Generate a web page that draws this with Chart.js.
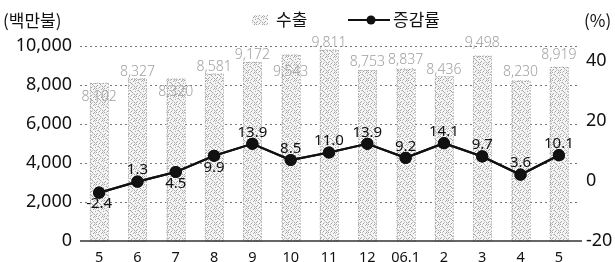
<!DOCTYPE html>
<html>
<head>
<meta charset="utf-8">
<script src="https://cdn.jsdelivr.net/npm/chart.js@4"></script>
<style>
  html, body { margin: 0; padding: 0; background: #fff; }
  #wrap { width: 615px; height: 262px; }
</style>
</head>
<body>
<div id="wrap"><canvas id="myChart" width="615" height="262"></canvas></div>
<script>
// données
const mois = ['5', '6', '7', '8', '9', '10', '11', '12', '06.1', '2', '3', '4', '5'];
const exportations = [8102, 8327, 8320, 8581, 9172, 9543, 9811, 8753, 8837, 8436, 9498, 8230, 8919];
const tauxCroissance = [-2.4, 1.3, 4.5, 9.9, 13.9, 8.5, 11.0, 13.9, 9.2, 14.1, 9.7, 3.6, 10.1];
const ticksGauche = [0, 2000, 4000, 6000, 8000, 10000];
const ticksDroite = [-20, 0, 20, 40];

// placement des étiquettes (style)
const positionEtiquette = ['below', 'above', 'below', 'below', 'above', 'above', 'above', 'above', 'above', 'above', 'above', 'above', 'above'];
const decalageBarre = [14, -7, 13, -7, -7, 17, -7, -8, -9, -6, -13, -8, -12];

const policeNum = '"Noto Sans", sans-serif';
const policeKr = '"Noto Sans CJK KR", sans-serif';

// motif pointillé pour les barres (points fixes, tuile 8x8)
function creerMotif() {
  const c = document.createElement('canvas');
  c.width = 8; c.height = 8;
  const g = c.getContext('2d');
  g.fillStyle = '#f5f5f5';
  g.fillRect(0, 0, 8, 8);
  g.fillStyle = '#a4a4a4';
  [[0, 0], [5, 1], [2, 2], [7, 3], [4, 4], [1, 5], [6, 6], [3, 7], [6, 0], [3, 3], [0, 6]]
    .forEach(([x, y]) => g.fillRect(x, y, 1, 1));
  g.fillStyle = '#c8c8c8';
  [[2, 0], [7, 1], [4, 6], [1, 2], [5, 5], [7, 7]].forEach(([x, y]) => g.fillRect(x, y, 1, 1));
  return g.createPattern(c, 'repeat');
}
const motif = creerMotif();

// lignes de grille pointillées, bordures et étiquettes
const grillePlugin = {
  id: 'grille',
  beforeDatasetsDraw(chart) {
    const { ctx, chartArea, scales } = chart;
    ctx.save();
    ctx.strokeStyle = '#777';
    ctx.lineWidth = 1;
    ctx.setLineDash([2, 3]);
    ticksGauche.forEach(v => {
      if (v === 0) return;
      const y = Math.round(scales.y.getPixelForValue(v)) + 0.5;
      ctx.beginPath();
      ctx.moveTo(chartArea.left, y);
      ctx.lineTo(chartArea.right + 2, y);
      ctx.stroke();
    });
    ctx.restore();
  },
  afterDatasetsDraw(chart) {
    const { ctx, chartArea, scales } = chart;
    ctx.save();
    // bordure pointillée des barres
    const metaBar = chart.getDatasetMeta(1);
    ctx.strokeStyle = '#999';
    ctx.lineWidth = 1;
    ctx.setLineDash([1, 2]);
    metaBar.data.forEach(bar => {
      const w = bar.width;
      ctx.strokeRect(Math.round(bar.x - w / 2) + 0.5, Math.round(bar.y) + 0.5, Math.round(w), Math.round(bar.base - bar.y));
    });
    ctx.setLineDash([]);
    // axe zéro
    const y0 = Math.round(scales.y.getPixelForValue(0));
    ctx.strokeStyle = '#333';
    ctx.lineWidth = 1.5;
    ctx.beginPath();
    ctx.moveTo(chartArea.left, y0);
    ctx.lineTo(chartArea.right + 4, y0);
    ctx.stroke();
    // redessiner la courbe au-dessus des bordures
    chart.getDatasetMeta(0).controller.draw();
    ctx.restore();
  },
  afterDraw(chart) {
    const { ctx } = chart;
    ctx.save();
    // étiquettes des barres
    ctx.fillStyle = '#a0a0a0';
    ctx.font = '300 14px ' + policeNum;
    ctx.textAlign = 'center';
    ctx.textBaseline = 'middle';
    chart.getDatasetMeta(1).data.forEach((bar, i) => {
      ctx.fillText(exportations[i].toLocaleString('en-US'), bar.x, bar.y + decalageBarre[i]);
    });
    // étiquettes de la courbe
    ctx.fillStyle = '#111';
    ctx.font = '15px ' + policeNum;
    chart.getDatasetMeta(0).data.forEach((pt, i) => {
      const txt = tauxCroissance[i].toFixed(1);
      if (positionEtiquette[i] === 'above') {
        ctx.textBaseline = 'bottom';
        ctx.fillText(txt, pt.x, pt.y - 4);
      } else {
        ctx.textBaseline = 'top';
        ctx.fillText(txt, pt.x, pt.y + 4);
      }
    });
    // titres des axes
    ctx.textBaseline = 'middle';
    ctx.font = '17px ' + policeKr;
    ctx.textAlign = 'left';
    ctx.fillText('(백만불)', 3, 21);
    ctx.fillText('(%)', 584, 21);
    // légende
    ctx.fillStyle = motif;
    ctx.fillRect(252, 15, 16, 10);
    ctx.fillStyle = '#111';
    ctx.fillText('수출', 276, 20);
    ctx.strokeStyle = '#111';
    ctx.lineWidth = 2;
    ctx.beginPath();
    ctx.moveTo(348, 20);
    ctx.lineTo(390, 20);
    ctx.stroke();
    ctx.beginPath();
    ctx.arc(371, 20, 4.5, 0, Math.PI * 2);
    ctx.fill();
    ctx.fillText('증감률', 393, 20);
    ctx.restore();
  }
};

const ctx = document.getElementById('myChart').getContext('2d');

new Chart(ctx, {
  type: 'bar',
  data: {
    labels: mois,
    datasets: [
      {
        type: 'line',
        label: '증감률',
        data: tauxCroissance,
        yAxisID: 'y1',
        borderColor: '#111',
        backgroundColor: '#111',
        borderWidth: 2.2,
        pointRadius: 5,
        pointBackgroundColor: '#111',
        tension: 0
      },
      {
        type: 'bar',
        label: '수출',
        data: exportations,
        yAxisID: 'y',
        backgroundColor: motif,
        borderWidth: 0,
        barThickness: 18
      }
    ]
  },
  plugins: [grillePlugin],
  options: {
    responsive: false,
    animation: false,
    layout: { padding: { top: 46, right: 0, left: 0, bottom: 0 } },
    plugins: {
      legend: { display: false },
      tooltip: { enabled: false }
    },
    scales: {
      x: {
        grid: { display: false },
        border: { display: false },
        ticks: {
          color: '#111',
          font: { family: policeNum, size: 14.5 },
          padding: 0,
          maxRotation: 0
        },
        afterFit(axis) { axis.height = 21; }
      },
      y: {
        position: 'left',
        min: 0,
        max: 10000,
        grid: { display: false },
        border: { display: false },
        afterBuildTicks(axis) { axis.ticks = ticksGauche.map(v => ({ value: v })); },
        ticks: {
          color: '#111',
          font: { family: policeNum, size: 18 },
          padding: 0,
          callback: v => v.toLocaleString('en-US')
        },
        afterFit(axis) { axis.width = 80; }
      },
      y1: {
        position: 'right',
        min: -18.5,
        max: 46.5,
        grid: { display: false },
        border: { display: false },
        afterBuildTicks(axis) { axis.ticks = ticksDroite.map(v => ({ value: v })); },
        ticks: {
          color: '#111',
          font: { family: policeNum, size: 18 },
          padding: 0,
          labelOffset: -5
        },
        afterFit(axis) { axis.width = 37; }
      }
    }
  }
});
</script>
</body>
</html>
